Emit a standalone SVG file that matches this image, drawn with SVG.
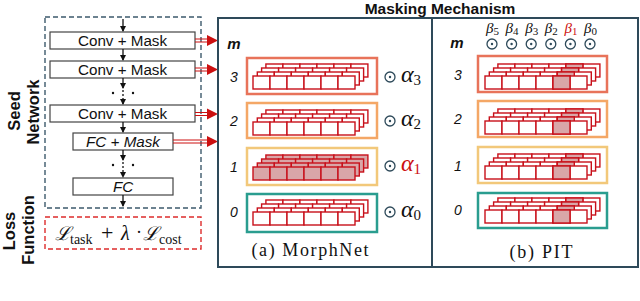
<svg xmlns="http://www.w3.org/2000/svg" xmlns:xlink="http://www.w3.org/1999/xlink" width="640" height="301" viewBox="0 0 640 301">
<style>
.lbl{font-family:"Liberation Sans",Arial,sans-serif;font-size:15.2px;fill:#111;text-anchor:middle}
.it{font-style:italic}
.side{font-family:"Liberation Sans",Arial,sans-serif;font-weight:bold;font-size:16.5px;fill:#111;text-anchor:middle}
.title{font-family:"Liberation Sans",Arial,sans-serif;font-weight:bold;font-size:15.5px;fill:#111;text-anchor:middle}
.node{fill:#fff;stroke:#444;stroke-width:1.2}
.cell{stroke:#c8101a;stroke-width:1.4}
.math{font-family:"Liberation Serif","Times New Roman",serif;font-style:italic;fill:#111}
.rm{font-family:"Liberation Serif","Times New Roman",serif;fill:#111}
.cap{font-family:"Liberation Serif","Times New Roman",serif;font-size:18px;fill:#111;text-anchor:middle}
.num{font-family:"Liberation Sans",Arial,sans-serif;font-style:italic;font-size:14px;text-anchor:middle;fill:#111}
.m{font-family:"Liberation Sans",Arial,sans-serif;font-style:italic;font-weight:bold;font-size:15px;text-anchor:middle;fill:#111}
.panel{fill:none;stroke:#2e4a5a;stroke-width:2}
.red{fill:#cc1010}
.down{stroke:#111;stroke-width:1.3;fill:none}
.dbl{stroke:#cc1010;stroke-width:1}
</style>
<defs>
<marker id="ah" markerWidth="6" markerHeight="6" refX="5" refY="3" orient="auto" markerUnits="userSpaceOnUse"><path d="M0,0 L6,3 L0,6 z" fill="#111"/></marker>
<g id="lay">
<rect class="cell" x="0" y="0" width="17" height="13"/>
<rect class="cell" x="17" y="0" width="17" height="13"/>
<rect class="cell" x="34" y="0" width="17" height="13"/>
<rect class="cell" x="51" y="0" width="17" height="13"/>
<rect class="cell" x="68" y="0" width="17" height="13"/>
<rect class="cell" x="85" y="0" width="17" height="13"/>
</g>
<g id="layP"><use xlink:href="#lay" fill="#fff"/><rect class="cell" x="68" y="0" width="17" height="13" fill="#d9a6a8"/></g>
<g id="stackW">
<use xlink:href="#lay" fill="#fff" x="12.9" y="-12"/>
<use xlink:href="#lay" fill="#fff" x="8.6" y="-8"/>
<use xlink:href="#lay" fill="#fff" x="4.3" y="-4"/>
<use xlink:href="#lay" fill="#fff"/>
</g>
<g id="stackF">
<use xlink:href="#lay" fill="#d9a6a8" x="12.9" y="-12"/>
<use xlink:href="#lay" fill="#d9a6a8" x="8.6" y="-8"/>
<use xlink:href="#lay" fill="#d9a6a8" x="4.3" y="-4"/>
<use xlink:href="#lay" fill="#d9a6a8"/>
</g>
<g id="stackP">
<use xlink:href="#layP" x="12.9" y="-12"/>
<use xlink:href="#layP" x="8.6" y="-8"/>
<use xlink:href="#layP" x="4.3" y="-4"/>
<use xlink:href="#layP"/>
</g>
<g id="odot"><circle r="5" fill="#fff" stroke="#2e4a5a" stroke-width="1.3"/><circle r="1.2" fill="#2e4a5a"/></g>
</defs>

<rect width="640" height="301" fill="#fff"/>

<!-- side labels -->
<g id="label-seed">
<text class="side" transform="translate(20,111) rotate(-90)">Seed</text>
<text class="side" transform="translate(39,112) rotate(-90)">Network</text>
</g>
<g id="label-loss">
<text class="side" transform="translate(15,231) rotate(-90)">Loss</text>
<text class="side" transform="translate(34,230) rotate(-90)">Function</text>
</g>

<!-- seed network container -->
<g id="seed-network">
<rect x="45" y="17" width="156" height="191" fill="none" stroke="#3d5a6c" stroke-width="1.4" stroke-dasharray="5,3"/>
</g>

<g id="conv1"><rect class="node" x="50" y="32" width="145" height="17"/><text class="lbl" x="122.5" y="46">Conv + Mask</text></g>
<g id="conv2"><rect class="node" x="50" y="61" width="145" height="17"/><text class="lbl" x="122.5" y="75">Conv + Mask</text></g>
<g id="conv3"><rect class="node" x="50" y="105" width="145" height="17"/><text class="lbl" x="122.5" y="119">Conv + Mask</text></g>
<g id="fcmask"><rect class="node" x="73" y="133" width="100" height="17"/><text class="lbl it" x="123" y="147">FC + Mask</text></g>
<g id="fc"><rect class="node" x="73" y="178" width="100" height="17"/><text class="lbl it" x="123" y="192">FC</text></g>

<g id="loss">
<rect x="45" y="217" width="156" height="32" fill="none" stroke="#dd2c2c" stroke-width="1.4" stroke-dasharray="5,3"/>
<text x="55" y="240" font-family="DejaVu Serif,serif" font-style="italic" font-size="19" fill="#111">ℒ</text>
<text class="rm" x="70" y="244" font-size="14">task</text>
<text class="rm" x="101" y="240" font-size="22">+</text>
<text class="math" x="121" y="240" font-size="20">λ</text>
<text class="rm" x="136" y="238" font-size="18">·</text>
<text x="143" y="240" font-family="DejaVu Serif,serif" font-style="italic" font-size="19" fill="#111">ℒ</text>
<text class="rm" x="159" y="244" font-size="14">cost</text>
</g>

<!-- connectors -->
<g id="connectors">
<line class="down" x1="123" y1="19" x2="123" y2="31" marker-end="url(#ah)"/>
<line class="down" x1="123" y1="49" x2="123" y2="60" marker-end="url(#ah)"/>
<line class="down" x1="123" y1="78" x2="123" y2="88" marker-end="url(#ah)"/>
<line class="down" x1="123" y1="90" x2="123" y2="104" stroke-dasharray="2,2" marker-end="url(#ah)"/>
<line class="down" x1="123" y1="122" x2="123" y2="132" marker-end="url(#ah)"/>
<line class="down" x1="123" y1="150" x2="123" y2="160" marker-end="url(#ah)"/>
<line class="down" x1="123" y1="162" x2="123" y2="177" stroke-dasharray="2,2" marker-end="url(#ah)"/>
<line class="down" x1="123" y1="195" x2="123" y2="206" marker-end="url(#ah)"/>
<circle cx="113" cy="93" r="1.2" fill="#111"/><circle cx="133" cy="93" r="1.2" fill="#111"/>
<circle cx="113" cy="165" r="1.2" fill="#111"/><circle cx="133" cy="165" r="1.2" fill="#111"/>

<g class="dbl">
<line x1="195" y1="39" x2="208" y2="39"/><line x1="195" y1="42" x2="208" y2="42"/>
<line x1="195" y1="68" x2="208" y2="68"/><line x1="195" y1="71" x2="208" y2="71"/>
<line x1="195" y1="112.5" x2="208" y2="112.5"/><line x1="195" y1="115.5" x2="208" y2="115.5"/>
<line x1="173" y1="140" x2="208" y2="140"/><line x1="173" y1="143" x2="208" y2="143"/>
</g>
<path class="red" d="M207,35 L218,40.5 L207,46 z"/>
<path class="red" d="M207,64 L218,69.5 L207,75 z"/>
<path class="red" d="M207,108.5 L218,114 L207,119.5 z"/>
<path class="red" d="M207,136 L218,141.5 L207,147 z"/>
</g>

<text class="title" x="440" y="14">Masking Mechanism</text>

<!-- panel a -->
<g id="panel-morphnet">
<rect class="panel" x="218" y="18" width="214" height="249"/>
<text class="m" x="234" y="49">m</text>
<g id="a-row3">
<rect x="247" y="58" width="130" height="36" fill="none" stroke="#e8735a" stroke-width="2.5"/>
<use xlink:href="#stackW" x="253" y="76"/>
<text class="num" x="234" y="82">3</text>
<use xlink:href="#odot" x="390" y="77"/>
<text class="math" x="401" y="82" font-size="24">α<tspan font-size="15" font-style="normal" dy="3">3</tspan></text>
</g>
<g id="a-row2">
<rect x="247" y="103" width="130" height="35" fill="none" stroke="#f4a766" stroke-width="2.5"/>
<use xlink:href="#stackW" x="253" y="122"/>
<text class="num" x="234" y="126">2</text>
<use xlink:href="#odot" x="390" y="121"/>
<text class="math" x="401" y="126" font-size="24">α<tspan font-size="15" font-style="normal" dy="3">2</tspan></text>
</g>
<g id="a-row1">
<rect x="247" y="148" width="130" height="37" fill="none" stroke="#f2c87a" stroke-width="2.5"/>
<use xlink:href="#stackF" x="253" y="167"/>
<text class="num" x="234" y="172">1</text>
<use xlink:href="#odot" x="390" y="166"/>
<text class="math" x="401" y="171" font-size="24" style="fill:#cc1010">α<tspan font-size="15" font-style="normal" dy="3">1</tspan></text>
</g>
<g id="a-row0">
<rect x="247" y="194" width="130" height="38" fill="none" stroke="#2a9d8f" stroke-width="2.5"/>
<use xlink:href="#stackW" x="253" y="212"/>
<text class="num" x="234" y="217">0</text>
<use xlink:href="#odot" x="390" y="212"/>
<text class="math" x="401" y="217" font-size="24">α<tspan font-size="15" font-style="normal" dy="3">0</tspan></text>
</g>
<text class="cap" x="310" y="256" textLength="117" lengthAdjust="spacing">(a) MorphNet</text>
</g>

<!-- panel b -->
<g id="panel-pit">
<rect class="panel" x="432" y="18" width="206" height="249"/>
<text class="m" x="457" y="48">m</text>
<g id="betas">
<text class="math" x="486" y="33" font-size="15">β<tspan font-size="11" font-style="normal" dy="2">5</tspan></text>
<text class="math" x="505.6" y="33" font-size="15">β<tspan font-size="11" font-style="normal" dy="2">4</tspan></text>
<text class="math" x="525.2" y="33" font-size="15">β<tspan font-size="11" font-style="normal" dy="2">3</tspan></text>
<text class="math" x="544.8" y="33" font-size="15">β<tspan font-size="11" font-style="normal" dy="2">2</tspan></text>
<text class="math" x="564.4" y="33" font-size="15" style="fill:#cc1010">β<tspan font-size="11" font-style="normal" dy="2">1</tspan></text>
<text class="math" x="584" y="33" font-size="15">β<tspan font-size="11" font-style="normal" dy="2">0</tspan></text>
<use xlink:href="#odot" x="492" y="44"/>
<use xlink:href="#odot" x="511.6" y="44"/>
<use xlink:href="#odot" x="531.2" y="44"/>
<use xlink:href="#odot" x="550.8" y="44"/>
<use xlink:href="#odot" x="570.4" y="44"/>
<use xlink:href="#odot" x="590" y="44"/>
</g>
<g id="b-row3">
<rect x="478" y="56" width="129" height="36" fill="none" stroke="#e8735a" stroke-width="2.5"/>
<use xlink:href="#stackP" x="485" y="76"/>
<text class="num" x="458" y="80">3</text>
</g>
<g id="b-row2">
<rect x="478" y="101" width="129" height="36" fill="none" stroke="#f4a766" stroke-width="2.5"/>
<use xlink:href="#stackP" x="485" y="121"/>
<text class="num" x="458" y="124">2</text>
</g>
<g id="b-row1">
<rect x="478" y="147" width="129" height="36" fill="none" stroke="#f2c87a" stroke-width="2.5"/>
<use xlink:href="#stackP" x="485" y="166"/>
<text class="num" x="458" y="171">1</text>
</g>
<g id="b-row0">
<rect x="478" y="193" width="129" height="35" fill="none" stroke="#2a9d8f" stroke-width="2.5"/>
<use xlink:href="#stackP" x="485" y="210"/>
<text class="num" x="458" y="215">0</text>
</g>
<text class="cap" x="541" y="258" textLength="63" lengthAdjust="spacing">(b) PIT</text>
</g>
</svg>
